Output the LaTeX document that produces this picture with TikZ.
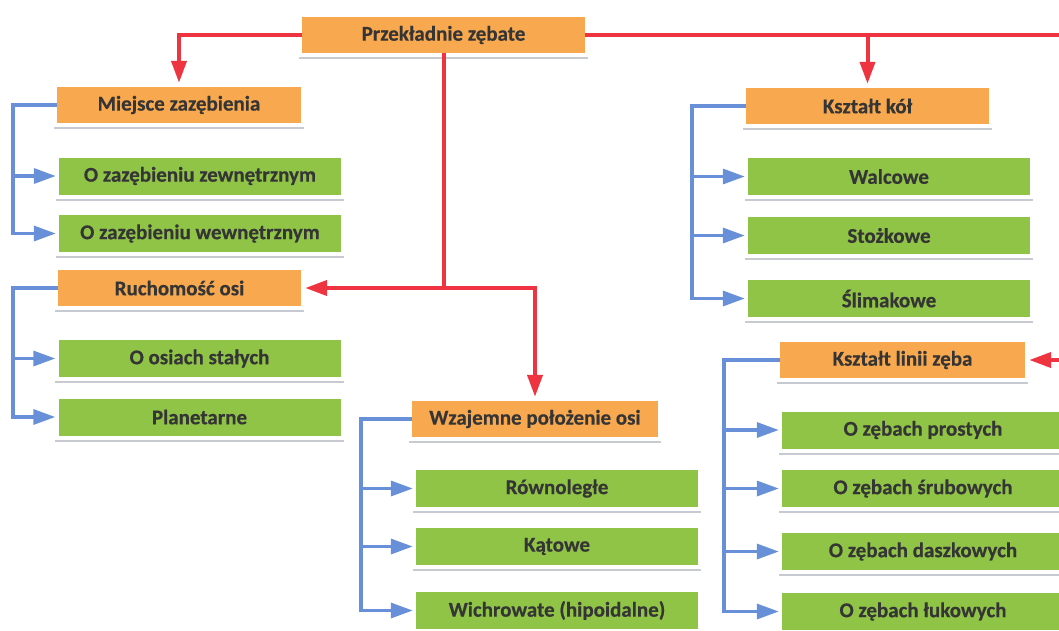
\documentclass[tikz,border=0pt]{standalone}
\usepackage{fontspec}
\setmainfont{Carlito}[BoldFeatures={FakeBold=0.4}]
\usetikzlibrary{arrows.meta}
\definecolor{orng}{HTML}{F8A84E}
\definecolor{grn}{HTML}{8FC447}
\definecolor{redl}{HTML}{EE3440}
\definecolor{bluel}{HTML}{6890D8}
\definecolor{txt}{HTML}{353535}
\definecolor{shd}{HTML}{C8CAD2}
\begin{document}
\begin{tikzpicture}[x=1pt,y=-1pt,
  box/.style={minimum height=36pt, inner sep=0pt, font=\fontsize{21}{24}\selectfont\bfseries, text=txt},
  obox/.style={box, fill=orng},
  gbox/.style={box, fill=grn, minimum width=282pt, minimum height=37pt},
  redln/.style={draw=redl, line width=4pt, line join=miter},
  redar/.style={redln, -{Triangle[length=22pt,width=15pt]}, shorten >=4pt},
  blueln/.style={draw=bluel, line width=3.3pt, line join=miter},
  bluear/.style={blueln, -{Triangle[length=22pt,width=15pt]}, shorten >=3pt},
  shadowln/.style={draw=shd, line width=2pt}
]
\clip (0,0) rectangle (1059,630);
\fill[white] (0,0) rectangle (1059,630);

% orange category boxes
\node[obox, minimum width=283pt] (top) at (443.5,35) {Przekładnie zębate};
\node[obox, minimum width=244pt] (miejsce) at (179,105) {Miejsce zazębienia};
\node[obox, minimum width=243pt] (ruch) at (179.5,288) {Ruchomość osi};
\node[obox, minimum width=246pt] (wzaj) at (535,419) {Wzajemne położenie osi};
\node[obox, minimum width=243pt] (kkol) at (867.5,106) {Kształt kół};
\node[obox, minimum width=245pt] (klin) at (902.5,360) {Kształt linii zęba};

% green leaf boxes
\node[gbox] (zewn) at (200,176) {O zazębieniu zewnętrznym};
\node[gbox] (wewn) at (200,233.5) {O zazębieniu wewnętrznym};
\node[gbox] (stal) at (199.5,358.5) {O osiach stałych};
\node[gbox] (plan) at (199.5,417) {Planetarne};
\node[gbox] (rown) at (557,488.5) {Równoległe};
\node[gbox] (kat) at (557,546.5) {Kątowe};
\node[gbox] (wich) at (557,610.5) {Wichrowate (hipoidalne)};
\node[gbox] (walc) at (889,176.5) {Walcowe};
\node[gbox] (stoz) at (889,235.5) {Stożkowe};
\node[gbox] (slim) at (889,298.5) {Ślimakowe};
\node[gbox] (pros) at (923,430) {O zębach prostych};
\node[gbox] (srub) at (923,488.5) {O zębach śrubowych};
\node[gbox] (dasz) at (923,551.5) {O zębach daszkowych};
\node[gbox] (luk) at (923,611.5) {O zębach łukowych};

% shadow lines under boxes
\foreach \n in {top,miejsce,ruch,wzaj,kkol,klin,zewn,wewn,stal,plan,rown,kat,wich,walc,stoz,slim,pros,srub,dasz,luk}
  \draw[shadowln] ([xshift=-3pt,yshift=-5pt]\n.south west) -- ([xshift=3pt,yshift=-5pt]\n.south east);

% red connectors
\draw[redar] (top.west) -| (miejsce.north);
\coordinate (rtop) at (1075,35);
\coordinate (rbot) at (1075,360);
\draw[redln] (top.east) -- (rtop);
\draw[redar] (rbot) -- (klin.east);
\draw[redar] (top.east -| kkol.north) -- (kkol.north);
\coordinate (cj) at (top.south |- ruch.east);
\draw[redar] (top.south) -- (cj) -- (ruch.east);
\draw[redar] (cj) -| (wzaj.north);

% blue connectors
\coordinate (bA) at (13,105);
\draw[bluear] (miejsce.west) -- (bA) |- (wewn.west);
\draw[bluear] (bA |- zewn.west) -- (zewn.west);

\coordinate (bB) at (13,288);
\draw[bluear] (ruch.west) -- (bB) |- (plan.west);
\draw[bluear] (bB |- stal.west) -- (stal.west);

\coordinate (bC) at (361,419);
\draw[bluear] (wzaj.west) -- (bC) |- (wich.west);
\draw[bluear] (bC |- rown.west) -- (rown.west);
\draw[bluear] (bC |- kat.west) -- (kat.west);

\coordinate (bD) at (692,106);
\draw[bluear] (kkol.west) -- (bD) |- (slim.west);
\draw[bluear] (bD |- walc.west) -- (walc.west);
\draw[bluear] (bD |- stoz.west) -- (stoz.west);

\coordinate (bE) at (724,360);
\draw[bluear] (klin.west) -- (bE) |- (luk.west);
\draw[bluear] (bE |- pros.west) -- (pros.west);
\draw[bluear] (bE |- srub.west) -- (srub.west);
\draw[bluear] (bE |- dasz.west) -- (dasz.west);
\end{tikzpicture}
\end{document}
